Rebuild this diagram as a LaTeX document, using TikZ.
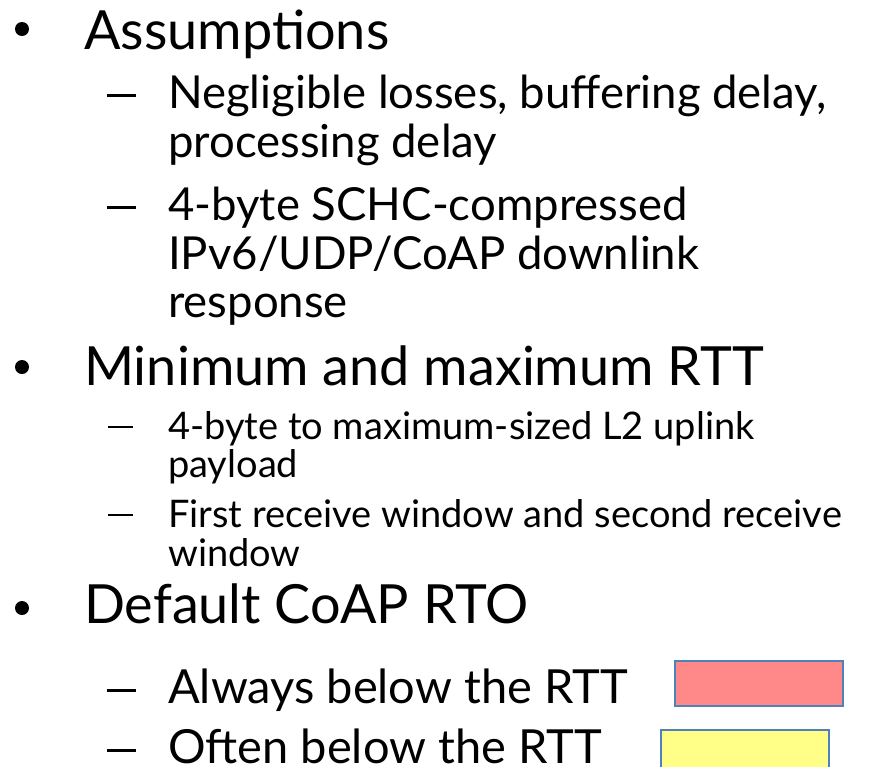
\documentclass[tikz,border=0pt]{standalone}
\usepackage{fontspec}
\setmainfont{Lato}
\usetikzlibrary{positioning}
\definecolor{boxline}{RGB}{79,129,189}
\definecolor{alwaysfill}{RGB}{255,137,137}
\definecolor{oftenfill}{RGB}{255,255,136}
\tikzset{
  lvlone/.style={anchor=base west, inner sep=0pt, font=\fontsize{54}{64}\selectfont},
  lvltwo/.style={anchor=base west, inner sep=0pt, font=\fontsize{45.5}{54}\selectfont},
  lvlsmall/.style={anchor=base west, inner sep=0pt, font=\fontsize{38}{45}\selectfont},
  lvlbig/.style={anchor=base west, inner sep=0pt, font=\fontsize{47}{56}\selectfont},
  dot/.style={circle, fill=black, inner sep=0pt, minimum size=14pt},
  endash/.style={fill=black, inner sep=0pt, minimum width=29pt, minimum height=3pt},
  shortdash/.style={fill=black, inner sep=0pt, minimum width=25pt, minimum height=2.6pt},
  swatch/.style={draw=boxline, line width=2pt, fill=#1},
}
\begin{document}
\begin{tikzpicture}[x=1pt, y=-1pt]
    \useasboundingbox (0,0) rectangle (875,766);
    \clip (0,0) rectangle (875,766);
    % first bullet
    \node[dot] (b1) at (22,29) {};
    \node[lvlone] (assump) at (84,49) {Assumptions};
    \node[endash] (d1) at (121.5,95) {};
    \node[lvltwo] (neg) at (168,108) {Negligible losses, buffering delay,};
    \node[lvltwo] (proc) at (168,157) {processing delay};
    \node[endash] (d2) at (121.5,207) {};
    \node[lvltwo] (schc) at (168,220) {4-byte SCHC-compressed};
    \node[lvltwo] (ipv6) at (168,269) {IPv6/UDP/CoAP downlink};
    \node[lvltwo] (resp) at (168,317) {response};
    % second bullet
    \node[dot] (b2) at (22,367) {};
    \node[lvlone] (rtt) at (84,385) {Minimum and maximum RTT};
    \node[shortdash] (d3) at (120,427) {};
    \node[lvlsmall] (upl) at (168,439) {4-byte to maximum-sized L2 uplink};
    \node[lvlsmall] (pay) at (168,477) {payload};
    \node[shortdash] (d4) at (120,515) {};
    \node[lvlsmall] (win) at (168,527) {First receive window and second receive};
    \node[lvlsmall] (win2) at (168,566) {window};
    % third bullet
    \node[dot] (b3) at (22,608) {};
    \node[lvlone] (rto) at (84,623) {Default CoAP RTO};
    \node[endash] (d5) at (121.5,690) {};
    \node[lvlbig] (always) at (168,703) {Always below the RTT};
    \node[endash] (d6) at (121.5,750) {};
    \node[lvlbig] (often) at (168,763) {Often below the RTT};
    % colour keys
    \draw[swatch=alwaysfill] (675,661) rectangle (843,706);
    \draw[swatch=oftenfill] (661,730) rectangle (829,775);
  \end{tikzpicture}
\end{document}
